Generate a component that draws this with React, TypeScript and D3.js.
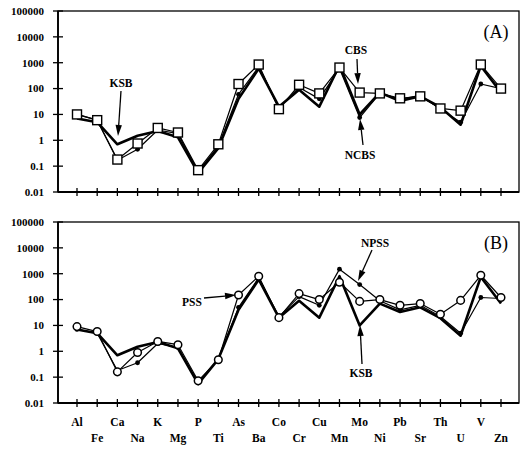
import React from "react";
import * as d3 from "d3";

const elements = ["Al","Fe","Ca","Na","K","Mg","P","Ti","As","Ba","Co","Cr","Cu","Mn","Mo","Ni","Pb","Sr","Th","U","V","Zn"];
const yTicks = [0.01, 0.1, 1, 10, 100, 1000, 10000, 100000];
const yTickLabels = ["0.01","0.1","1","10","100","1000","10000","100000"];

// KSB (reference basin sediment) - same in both panels
const ksb = [7, 5, 0.7, 1.5, 2.3, 1.3, 0.055, 0.5, 40, 600, 20, 90, 20, 800, 10, 70, 33, 50, 19, 4, 750, 70];
// Panel A
const cbs = [10, 6, 0.18, 0.75, 3, 2, 0.07, 0.7, 150, 850, 16, 140, 65, 650, 70, 65, 42, 50, 17, 14, 850, 100];
const ncbs = [10, 6, 0.17, 0.45, 2.5, 1.8, 0.06, 0.6, 60, 700, 18, 110, 40, 600, 7.6, 65, 38, 55, 16, 5, 150, 100];
// Panel B
const pss = [9, 5.8, 0.16, 0.9, 2.4, 1.8, 0.072, 0.47, 150, 800, 20, 170, 100, 470, 85, 100, 60, 70, 27, 93, 870, 120];
const npss = [7, 5, 0.18, 0.36, 2, 1.4, 0.06, 0.5, 50, 700, 22, 130, 60, 1500, 380, 90, 40, 60, 22, 5, 120, 110];

const FONT = "'Liberation Serif', 'DejaVu Serif', serif";

type Ann = { text: string; tx: number; ty: number; x1: number; y1: number; x2: number; y2: number };

function Arrow({ x1, y1, x2, y2 }: { x1: number; y1: number; x2: number; y2: number }) {
  const ang = Math.atan2(y2 - y1, x2 - x1);
  const L = 11, W = 3.2;
  const bx = x2 - L * Math.cos(ang), by = y2 - L * Math.sin(ang);
  const px = -Math.sin(ang) * W, py = Math.cos(ang) * W;
  return (
    <g>
      <line x1={x1} y1={y1} x2={bx} y2={by} stroke="#000" strokeWidth={1.3} />
      <path d={`M${x2},${y2}L${bx + px},${by + py}L${bx - px},${by - py}Z`} fill="#000" />
    </g>
  );
}

function Panel({ top, bottom, label, thin, thinMarker, dots, anns, showX }: any) {
  const left = 58, right = 519;
  const x = d3.scalePoint<string>().domain(elements).range([77, 501]);
  const y = d3.scaleLog().domain([0.01, 100000]).range([bottom, top]);
  const line = d3.line<number>().x((_, i) => x(elements[i])!).y((v) => y(v));
  return (
    <g>
      <rect x={left} y={top} width={right - left} height={bottom - top} fill="none" stroke="#000" strokeWidth={1.3} />
      <line x1={left} y1={top} x2={left} y2={bottom} stroke="#000" strokeWidth={1.8} />
      <line x1={left} y1={bottom} x2={right} y2={bottom} stroke="#000" strokeWidth={1.8} />
      {yTicks.map((t, i) => (
        <g key={t}>
          <line x1={left - 5} x2={left + 5} y1={y(t)} y2={y(t)} stroke="#000" strokeWidth={1.3} />
          <text x={44} y={y(t)} dy="0.35em" textAnchor="end" fontFamily={FONT} fontWeight="bold" fontSize={11}>
            {yTickLabels[i]}
          </text>
        </g>
      ))}
      {elements.map((e) => (
        <line key={e} x1={x(e)} x2={x(e)} y1={bottom - 4} y2={bottom + 4} stroke="#000" strokeWidth={1.3} />
      ))}
      <path d={line(ksb)!} fill="none" stroke="#000" strokeWidth={2.6} strokeLinejoin="round" />
      <path d={line(dots)!} fill="none" stroke="#000" strokeWidth={1.2} strokeLinejoin="round" />
      {dots.map((v: number, i: number) => (
        <circle key={i} cx={x(elements[i])} cy={y(v)} r={2.4} fill="#000" />
      ))}
      <path d={line(thin)!} fill="none" stroke="#000" strokeWidth={1.2} strokeLinejoin="round" />
      {thin.map((v: number, i: number) =>
        thinMarker === "square" ? (
          <rect key={i} x={x(elements[i])! - 4.5} y={y(v) - 4.5} width={9} height={9} fill="#fff" stroke="#000" strokeWidth={1.4} />
        ) : (
          <circle key={i} cx={x(elements[i])} cy={y(v)} r={3.8} fill="#fff" stroke="#000" strokeWidth={1.5} />
        )
      )}
      {anns.map((a: Ann) => (
        <g key={a.text}>
          <text x={a.tx} y={a.ty} dy="0.35em" textAnchor="middle" fontFamily={FONT} fontWeight="bold" fontSize={11.5}>
            {a.text}
          </text>
          <Arrow x1={a.x1} y1={a.y1} x2={a.x2} y2={a.y2} />
        </g>
      ))}
      <text x={496} y={top + 21} dy="0.35em" textAnchor="middle" fontFamily={FONT} fontSize={18}>
        {label}
      </text>
      {showX &&
        elements.map((e, i) => (
          <text key={e} x={x(e)} y={i % 2 === 0 ? 422 : 438} dy="0.35em" textAnchor="middle" fontFamily={FONT} fontWeight="bold" fontSize={11.5}>
            {e}
          </text>
        ))}
    </g>
  );
}

const annsA: Ann[] = [
  { text: "KSB", tx: 121, ty: 83, x1: 121, y1: 91, x2: 118, y2: 136 },
  { text: "CBS", tx: 356, ty: 50, x1: 357, y1: 59, x2: 358, y2: 84 },
  { text: "NCBS", tx: 360, ty: 155, x1: 363, y1: 145, x2: 360, y2: 119 },
];
const annsB: Ann[] = [
  { text: "NPSS", tx: 375, ty: 243, x1: 372, y1: 250, x2: 358, y2: 281 },
  { text: "PSS", tx: 192, ty: 302, x1: 204, y1: 298, x2: 236, y2: 295 },
  { text: "KSB", tx: 361, ty: 373, x1: 362, y1: 364, x2: 360, y2: 325 },
];

export default function App() {
  return (
    <svg width={521} height={451} style={{ display: "block", position: "absolute", left: 0, top: 0 }}>
      <rect width={521} height={451} fill="#fff" />
      <Panel top={11} bottom={192} label="(A)" thin={cbs} thinMarker="square" dots={ncbs} anns={annsA} showX={false} />
      <Panel top={222} bottom={403} label="(B)" thin={pss} thinMarker="circle" dots={npss} anns={annsB} showX={true} />
    </svg>
  );
}
